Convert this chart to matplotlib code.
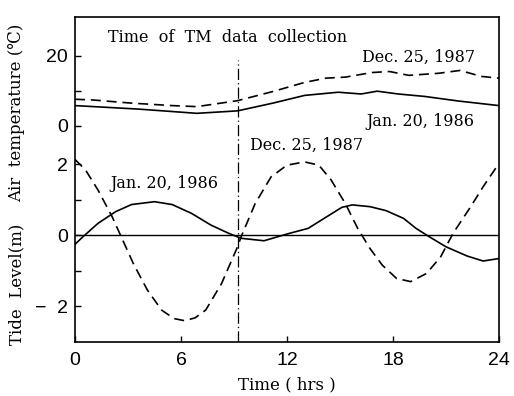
import matplotlib
matplotlib.use("Agg")
import matplotlib.pyplot as plt

# ---- data ----
tide_jan_hr = [0, 0.4, 1.3, 2.3, 3.2, 4.5, 5.5, 6.6, 7.7, 8.7, 9.4, 10.7, 12.0, 13.2,
               14.1, 15.1, 15.7, 16.7, 17.6, 18.6, 19.3, 20.0, 21.0, 22.2, 23.1, 24.0]
tide_jan = [-0.26, -0.07, 0.33, 0.66, 0.86, 0.94, 0.86, 0.61, 0.28, 0.05, -0.09, -0.16,
            0.03, 0.19, 0.47, 0.78, 0.85, 0.80, 0.69, 0.47, 0.19, -0.03, -0.33, -0.59,
            -0.73, -0.66]

tide_dec_hr = [0, 0.6, 1.3, 2.1, 2.7, 3.3, 4.1, 4.9, 5.6, 6.2, 6.8, 7.4, 8.3, 9.2, 9.4,
               10.2, 11.1, 12.0, 13.0, 13.8, 14.5, 15.3, 16.0, 16.7, 17.4, 18.2, 19.0,
               19.9, 20.7, 21.4, 22.4, 23.1, 24.0]
tide_dec = [2.13, 1.83, 1.27, 0.52, -0.14, -0.80, -1.55, -2.11, -2.35, -2.41, -2.33,
            -2.11, -1.36, -0.33, -0.05, 0.89, 1.64, 1.97, 2.06, 1.97, 1.55, 0.89, 0.19,
            -0.38, -0.85, -1.22, -1.31, -1.08, -0.61, 0.05, 0.80, 1.36, 2.02]

temp_jan_hr = [0, 3.6, 6.9, 9.2, 11.2, 13.0, 14.9, 16.2, 17.1, 18.3, 19.8, 21.7, 24]
temp_jan = [5.8, 4.8, 3.6, 4.3, 6.5, 8.7, 9.6, 9.1, 9.9, 9.1, 8.4, 7.1, 5.8]

temp_dec_hr = [0, 1.0, 3.2, 5.5, 6.9, 9.2, 11.2, 13.0, 14.2, 15.3, 16.8, 17.8, 18.9,
               20.6, 21.8, 23.0, 24]
temp_dec = [7.6, 7.4, 6.5, 5.8, 5.5, 7.2, 9.8, 12.4, 13.6, 13.9, 15.2, 15.5, 14.4,
            15.0, 15.8, 14.1, 13.6]

tm_time = 9.2
x_ticks = [0, 6, 12, 18, 24]
tide_ticks = [2, 1, 0, -1, -2]
tide_ticklabels = ["2", "", "0", "", "\u2212  2"]
temp_ticks = [20, 10, 0]
temp_ticklabels = ["20", "", "0"]

serif = ["DejaVu Serif"]
numfont = ["Liberation Sans Narrow", "Liberation Sans", "DejaVu Sans"]

fig = plt.figure(figsize=(5.14, 3.96), dpi=100)
ax = fig.add_axes([75/514, 54/396, 424/514, 325/396])
ax.set_xlim(0, 24)
ax.set_ylim(-3.01, 6.14)

ax2 = ax.twinx()
ax2.set_ylim(-61.45, 31.0)
ax2.yaxis.tick_left()
ax2.patch.set_visible(False)
for s in ax2.spines.values():
    s.set_visible(False)

lw = 1.2
dash = (0, (6, 3.5))
ax.plot(tide_jan_hr, tide_jan, color="black", lw=lw)
ax.plot(tide_dec_hr, tide_dec, color="black", lw=lw, linestyle=dash)
ax2.plot(temp_jan_hr, temp_jan, color="black", lw=lw)
ax2.plot(temp_dec_hr, temp_dec, color="black", lw=lw, linestyle=dash)

ax.axhline(0, color="black", lw=1.0)
ax.axvline(tm_time, ymin=0, ymax=0.868, color="black", lw=0.9,
           linestyle=(0, (9, 2.5, 1, 2.5)))

for s in ax.spines.values():
    s.set_linewidth(1.2)

ax.set_xticks(x_ticks)
ax.set_xticklabels([str(v) for v in x_ticks], family=numfont, fontsize=14)
ax.tick_params(axis="x", direction="in", length=4, width=1, pad=7)
ax.set_yticks(tide_ticks)
ax.set_yticklabels(tide_ticklabels, family=numfont, fontsize=14)
ax.tick_params(axis="y", direction="in", length=4, width=1, pad=5)
ax2.set_yticks(temp_ticks)
ax2.set_yticklabels(temp_ticklabels, family=numfont, fontsize=14)
ax2.tick_params(axis="y", direction="in", length=4, width=1, pad=5,
                left=True, right=False, labelleft=True, labelright=False)

ax.text(0.078, 0.938, "Time  of  TM  data  collection", transform=ax.transAxes,
        family=serif, fontsize=11.5, va="center", ha="left")
ax.text(0.943, 0.877, "Dec. 25, 1987", transform=ax.transAxes,
        family=serif, fontsize=11.5, va="center", ha="right")
ax.text(0.943, 0.677, "Jan. 20, 1986", transform=ax.transAxes,
        family=serif, fontsize=11.5, va="center", ha="right")
ax.text(0.413, 0.606, "Dec. 25, 1987", transform=ax.transAxes,
        family=serif, fontsize=11.5, va="center", ha="left")
ax.text(0.083, 0.489, "Jan. 20, 1986", transform=ax.transAxes,
        family=serif, fontsize=11.5, va="center", ha="left")

fig.text(287/514, 1 - 385/396, "Time ( hrs )", family=serif, fontsize=12,
         ha="center", va="center")
fig.text(17/514, 1 - 284/396, "Tide  Level(m)", family=serif, fontsize=12,
         ha="center", va="center", rotation=90)
fig.text(17/514, 1 - 113/396, "Air  temperature (\u2103)", family=serif, fontsize=12,
         ha="center", va="center", rotation=90)

fig.savefig("out.png", dpi=100)
